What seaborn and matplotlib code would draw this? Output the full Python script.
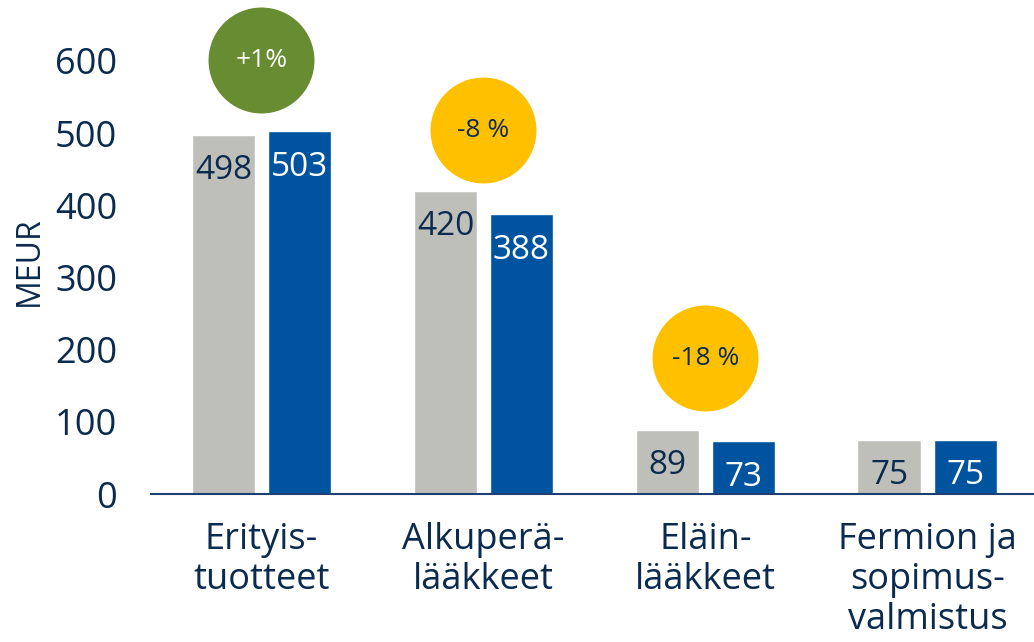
import matplotlib
matplotlib.use("Agg")
import matplotlib.pyplot as plt
import seaborn as sns
import pandas as pd

categories = ["Erityis-\ntuotteet", "Alkuperä-\nlääkkeet", "Eläin-\nlääkkeet", "Fermion ja\nsopimus-\nvalmistus"]
series_names = ["Edellinen", "Nykyinen"]
prev_values = [498, 420, 89, 75]
curr_values = [503, 388, 73, 75]
changes = ["+1%", "-8 %", "-18 %", None]
change_kind = ["up", "down", "down", None]
yticks = [0, 100, 200, 300, 400, 500, 600]

GREY = "#BFBFBA"
BLUE = "#00539F"
NAVY = "#0B2A4F"
GREEN = "#688C31"
YELLOW = "#FFC000"

sns.set_theme(style="white")
plt.rcParams["font.family"] = ["Open Sans", "DejaVu Sans"]

df = pd.DataFrame({
    "cat": categories * 2,
    "series": [series_names[0]] * 4 + [series_names[1]] * 4,
    "value": prev_values + curr_values,
})

fig = plt.figure(figsize=(10.34, 6.42), dpi=100)
ax = fig.add_axes([150.5 / 1034, 1 - 494 / 642, (1034 - 150.5) / 1034, 447.5 / 642])

sns.barplot(data=df, x="cat", y="value", hue="series", order=categories,
            hue_order=series_names, palette=[GREY, BLUE], width=0.685, gap=0.16,
            saturation=1, legend=False, ax=ax)

ax.set_xlim(-0.5, 3.48)
ax.set_ylim(0, 620)
ax.set_yticks(yticks)
ax.set_yticklabels([str(t) for t in yticks], fontsize=26, color=NAVY)
ax.tick_params(axis="y", length=0, pad=24)
ax.tick_params(axis="x", length=0, pad=20, labelsize=26, labelcolor=NAVY)
for lbl in ax.get_xticklabels():
    lbl.set_linespacing(1.15)
ax.set_xlabel("")
ax.set_ylabel("MEUR", fontsize=23, color=NAVY)
ax.yaxis.set_label_coords(-0.118, 0.52)
for s in ["top", "right", "left"]:
    ax.spines[s].set_visible(False)
ax.spines["bottom"].set_color("#1F3F73")
ax.spines["bottom"].set_linewidth(1.5)

# value labels
for container, txtcol in zip(ax.containers, [NAVY, "white"]):
    for bar in container:
        h = bar.get_height()
        ax.annotate(f"{h:.0f}", (bar.get_x() + bar.get_width() / 2, h),
                    xytext=(0, -26), textcoords="offset points",
                    ha="center", va="center", fontsize=24, color=txtcol)

# change circles (offset above the grey bar, layout only)
badge_offset = [98, 84, 99, 0]
for i, (ch, kind) in enumerate(zip(changes, change_kind)):
    if ch is None:
        continue
    y = max(prev_values[i], curr_values[i]) + badge_offset[i]
    col = GREEN if kind == "up" else YELLOW
    tcol = "white" if kind == "up" else NAVY
    ax.scatter([i], [y], s=5820, color=col, clip_on=False, zorder=5, linewidths=0)
    ax.text(i, y, ch, ha="center", va="center", fontsize=19, color=tcol, zorder=6)

fig.savefig("out.png", dpi=100)
